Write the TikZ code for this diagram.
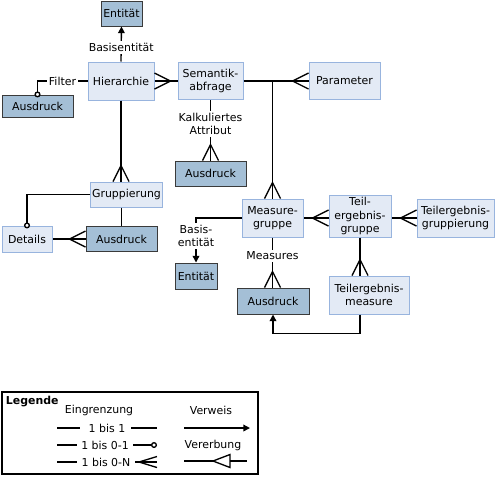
\documentclass[tikz,border=0pt]{standalone}
\usepackage{fontspec}
\setmainfont{DejaVu Sans}
\usetikzlibrary{arrows.meta}
\definecolor{boxlight}{HTML}{E3EAF5}
\definecolor{edgelight}{HTML}{98B4DE}
\definecolor{boxdark}{HTML}{A4BFD6}
\definecolor{edgedark}{HTML}{3A3A3A}
% crow's foot at an anchor, rotated towards the box
\newcommand{\crowfoot}[2]{\draw[shift={(#1)}, rotate=#2] (-16,0) -- (0,8) (-16,0) -- (0,-8);}
\begin{document}
\begin{tikzpicture}
	[x=0.75pt, y=-0.75pt, line width=1pt,
	every node/.style={font=\fontsize{8.2}{9.8}\selectfont, align=center, inner sep=1pt},
	sz/.style 2 args={minimum width=#1*0.75pt, minimum height=#2*0.75pt},
	lightbox/.style={draw=edgelight, fill=boxlight, line width=0.75pt},
	darkbox/.style={draw=edgedark, fill=boxdark, line width=0.75pt},
	lbl/.style={fill=white, inner sep=1.5pt},
	ref/.style={-{Triangle[length=5pt, width=5pt]}},
	opt/.style={-{Circle[open, length=4.5pt, fill=white]}, shorten >=-2.2pt}]
	\useasboundingbox (0,0) rectangle (495,476);
	\node[darkbox, sz={41}{25}] (ent1) at (121.5,13.5) {Entität};
	\node[lightbox, sz={66}{38}] (hier) at (121,81) {Hierarchie};
	\node[darkbox, sz={71}{22}] (ausF) at (37.5,106) {Ausdruck};
	\node[lightbox, sz={65}{37}] (sem) at (210.5,81) {Semantik-\\abfrage};
	\node[lightbox, sz={71}{37}] (param) at (344.5,81) {Parameter};
	\node[darkbox, sz={71}{25}] (ausK) at (210.5,173.5) {Ausdruck};
	\node[lightbox, sz={71}{25}] (grp) at (126.5,194.5) {Gruppierung};
	\node[lightbox, sz={50}{26}] (det) at (27,239) {Details};
	\node[darkbox, sz={71}{25}] (ausM) at (121.5,239) {Ausdruck};
	\node[lightbox, sz={61}{38}] (mg) at (272.5,218) {Measure-\\gruppe};
	\node[lightbox, sz={62}{42}] (teil) at (360,216) {Teil-\\ergebnis-\\gruppe};
	\node[lightbox, sz={77}{38}] (teilgr) at (455.5,218) {Teilergebnis-\\gruppierung};
	\node[darkbox, sz={42}{26}] (ent2) at (196,276) {Entität};
	\node[darkbox, sz={72}{26}] (ausL) at (273,301) {Ausdruck};
	\node[lightbox, sz={80}{38}] (tm) at (369,295) {Teilergebnis-\\measure};

	\draw[ref] (hier.north) -- node[lbl, pos=0.4] {Basisentität} (ent1.south);
	\draw[opt] (hier.west) -- node[lbl] {Filter} (hier.west -| ausF.north) -- (ausF.north);
	\draw (hier.east) -- (sem.west);
	\crowfoot{hier.east}{180}
	\draw (sem.east) -- (param.west);
	\crowfoot{param.west}{0}
	\draw (sem.east -| mg.north) -- (mg.north);
	\crowfoot{mg.north}{-90}
	\draw (sem.south) -- node[lbl, pos=0.4] {Kalkuliertes\\Attribut} (ausK.north);
	\crowfoot{ausK.north}{-90}
	\draw (hier.south) -- (hier.south |- grp.north);
	\crowfoot{hier.south |- grp.north}{-90}
	\draw[opt] (grp.west) -- (grp.west -| det.north) -- (det.north);
	\draw (grp.south -| ausM.north) -- (ausM.north);
	\draw (ausM.west) -- (det.east);
	\crowfoot{ausM.west}{0}
	\draw[ref] (mg.west) -- (mg.west -| ent2.north) -- node[lbl, pos=0.4] {Basis-\\entität} (ent2.north);
	\draw (mg.south) -- node[lbl, pos=0.37] {Measures} (mg.south |- ausL.north);
	\crowfoot{mg.south |- ausL.north}{-90}
	\draw (teil.west |- mg.east) -- (mg.east);
	\crowfoot{teil.west |- mg.east}{0}
	\draw (teilgr.west) -- (teilgr.west -| teil.east);
	\crowfoot{teilgr.west}{0}
	\draw (teil.south) -- (teil.south |- tm.north);
	\crowfoot{teil.south |- tm.north}{-90}
	\draw[ref] (teil.south |- tm.south) -- ++(0,19) -| (ausL.south);

	% legend
	\draw (2,392) rectangle (258,474);
	\node[anchor=west, font=\fontsize{8.2}{9.8}\selectfont\bfseries] (legende) at (4,402) {Legende};
	\node (eingr) at (99,410) {Eingrenzung};
	\node (verweis) at (211,410) {Verweis};
	\node (one) at (107,428) {1 bis 1};
	\draw (57,428) -- (80,428) (131,428) -- (157,428);
	\node (zero) at (105,445) {1 bis 0-1};
	\draw (57,445) -- (77,445);
	\draw[opt, shorten >=0pt] (133,445) -- (157,445);
	\node (many) at (106,462) {1 bis 0-N};
	\draw (57,462) -- (77,462) (135,462) -- (157,462);
	\draw (139,462) -- (157,456.5) (139,462) -- (157,467.5);
	\draw[ref] (184,428) -- (250,428);
	\node (vererb) at (213,445) {Vererbung};
	\draw (184,461) -- (213,461) (230,461) -- (247,461);
	\draw (213,461) -- (230,454.5) -- (230,467.5) -- cycle;
\end{tikzpicture}
\end{document}
